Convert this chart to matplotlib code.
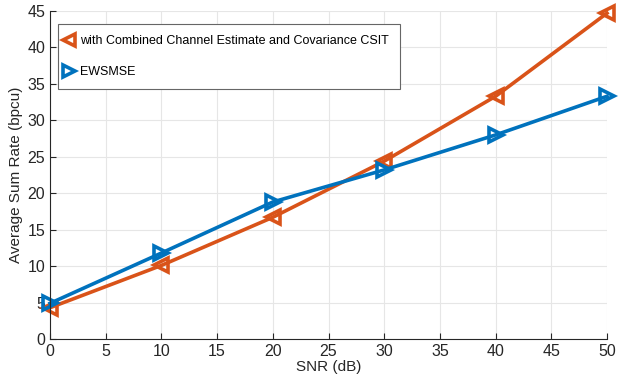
import numpy as np
import matplotlib
matplotlib.use("Agg")
import matplotlib.pyplot as plt

plt.rcParams['font.family'] = ['Liberation Sans', 'DejaVu Sans']

# dane
snr = [0, 10, 20, 30, 40, 50]
rate_combined = [4.3, 10.1, 16.7, 24.4, 33.3, 44.7]
rate_ewsmse = [4.9, 11.8, 18.8, 23.2, 28.0, 33.3]
labels = ['with Combined Channel Estimate and Covariance CSIT', 'EWSMSE']

fig = plt.figure(figsize=(6.28, 3.78), dpi=100)
ax = fig.add_axes([0.0796, 0.103, 0.887, 0.868])

ax.plot(snr, rate_combined, color='#D95319', lw=2.6, marker='<', ms=10,
        mfc='none', mew=2.6, label=labels[0], clip_on=False)
ax.plot(snr, rate_ewsmse, color='#0072BD', lw=2.6, marker='>', ms=10,
        mfc='none', mew=2.6, label=labels[1], clip_on=False)

ax.set_xlim(0, 50)
ax.set_ylim(0, 45)
ax.set_xticks(np.arange(0, 51, 5))
ax.set_yticks(np.arange(0, 46, 5))
ax.grid(True, color='#e6e6e6', lw=0.8)
ax.set_axisbelow(True)
for s in ['top', 'right']:
	ax.spines[s].set_visible(False)
for s in ['left', 'bottom']:
	ax.spines[s].set_color('#262626')
	ax.spines[s].set_linewidth(0.8)
ax.tick_params(direction='in', length=4, colors='#262626', labelsize=11.5)

ax.set_xlabel('SNR (dB)', fontsize=11, color='#262626', labelpad=1)
ax.set_ylabel('Average Sum Rate (bpcu)', fontsize=11, color='#262626', labelpad=3)

leg = ax.legend(loc='upper left', bbox_to_anchor=(0.014, 0.96), fontsize=9.0,
                fancybox=False, edgecolor='#666666', framealpha=1,
                handlelength=0.0, handletextpad=0.9, labelspacing=1.5,
                borderpad=0.9, borderaxespad=0)
leg.get_frame().set_linewidth(0.8)
for h in leg.legend_handles:
	h.set_linestyle('none')
	h.set_markersize(9)

fig.savefig('out.png', dpi=100)
